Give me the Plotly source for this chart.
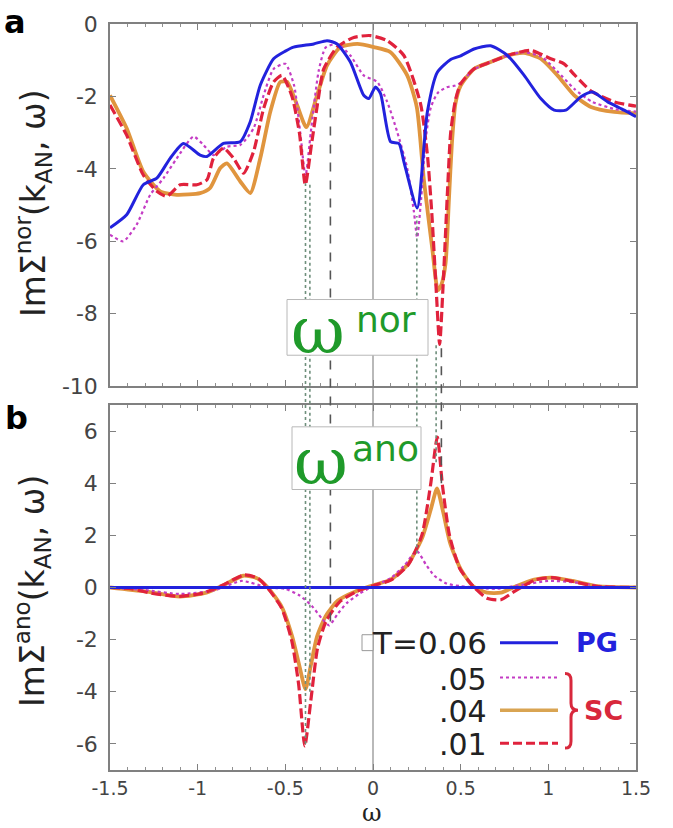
import plotly.graph_objects as go

# ---------------- data ----------------
# Panel a: Im Sigma^nor(k_AN, omega)
omega_nor_pg = [-1.5, -1.405, -1.31, -1.233, -1.157, -1.081, -0.986, -0.947, -0.853, -0.757, -0.70, -0.643,
                -0.567, -0.50, -0.453, -0.338, -0.262, -0.205, -0.129, -0.053, -0.024, 0.014, 0.043, 0.10,
                0.148, 0.176, 0.252, 0.31, 0.367, 0.443, 0.50, 0.576, 0.671, 0.767, 0.862, 0.957, 1.033,
                1.10, 1.186, 1.252, 1.338, 1.433, 1.50]
nor_pg = [-5.63, -5.27, -4.44, -4.26, -3.71, -3.30, -3.62, -3.66, -3.30, -3.25, -2.70, -1.69,
          -0.96, -0.75, -0.64, -0.55, -0.46, -0.55, -1.05, -1.97, -2.06, -1.74, -1.92, -3.25,
          -3.30, -3.80, -5.08, -2.43, -1.33, -0.98, -0.88, -0.69, -0.60, -0.87, -1.42, -2.06, -2.38,
          -2.38, -2.01, -1.88, -2.15, -2.38, -2.56]

omega_nor_05 = [-1.5, -1.424, -1.348, -1.271, -1.195, -1.119, -1.024, -0.967, -0.91, -0.833, -0.757, -0.681,
                -0.624, -0.567, -0.50, -0.45, -0.415, -0.385, -0.355, -0.31, -0.27, -0.205, -0.129, -0.053,
                0.024, 0.081, 0.138, 0.195, 0.233, 0.252, 0.275, 0.30, 0.33, 0.37, 0.42, 0.47, 0.50, 0.576,
                0.671, 0.767, 0.86, 0.96, 1.05, 1.15, 1.25, 1.38, 1.50]
nor_05 = [-5.82, -6.0, -5.54, -4.72, -4.26, -3.71, -3.11, -3.34, -3.62, -3.39, -3.34, -2.88,
          -1.97, -1.24, -1.10, -1.70, -3.0, -4.2, -3.0, -1.3, -0.65, -0.55, -0.87, -1.42,
          -1.60, -2.15, -2.98, -3.98, -5.17, -5.9, -4.8, -3.2, -2.3, -1.9, -1.75, -1.7, -1.62, -1.25,
          -1.05, -0.87, -0.78, -0.90, -1.30, -1.80, -2.15, -2.35, -2.42]

omega_nor_04 = [-1.5, -1.405, -1.31, -1.214, -1.119, -0.986, -0.929, -0.871, -0.833, -0.757, -0.70, -0.643,
                -0.586, -0.529, -0.49, -0.433, -0.38, -0.319, -0.262, -0.186, -0.09, 0.005, 0.10, 0.195,
                0.25, 0.29, 0.338, 0.37, 0.39, 0.414, 0.433, 0.45, 0.47, 0.50, 0.576, 0.671, 0.767, 0.862,
                0.957, 1.052, 1.148, 1.243, 1.376, 1.50]
nor_04 = [-1.97, -2.88, -4.08, -4.62, -4.72, -4.67, -4.53, -3.98, -3.85, -4.35, -4.67, -3.71,
          -2.43, -1.60, -1.60, -2.24, -2.85, -1.97, -1.14, -0.64, -0.55, -0.64, -0.78, -1.42,
          -2.3, -4.3, -6.2, -7.35, -7.2, -6.6, -4.85, -3.3, -2.2, -1.7, -1.24, -1.05, -0.87, -0.80,
          -0.96, -1.42, -1.97, -2.29, -2.43, -2.47]

omega_nor_01 = [-1.5, -1.405, -1.31, -1.233, -1.176, -1.10, -1.005, -0.947, -0.91, -0.853, -0.795, -0.738,
                -0.681, -0.624, -0.567, -0.519, -0.462, -0.42, -0.386, -0.35, -0.31, -0.281, -0.205, -0.110,
                -0.014, 0.081, 0.176, 0.271, 0.31, 0.335, 0.36, 0.38, 0.40, 0.425, 0.443, 0.47, 0.50,
                0.576, 0.671, 0.767, 0.90, 1.014, 1.09, 1.148, 1.243, 1.376, 1.50]
nor_01 = [-2.24, -3.07, -4.17, -4.62, -4.76, -4.44, -4.44, -4.30, -3.71, -3.43, -3.71, -4.12,
          -3.52, -2.34, -1.60, -1.42, -2.0, -3.0, -4.44, -3.3, -2.0, -1.24, -0.64, -0.37,
          -0.32, -0.46, -0.87, -2.2, -3.6, -5.2, -7.3, -8.85, -7.2, -4.6, -3.0, -2.1, -1.65,
          -1.24, -1.05, -0.87, -0.73, -0.96, -1.10, -1.40, -1.85, -2.15, -2.27]

# Panel b: Im Sigma^ano(k_AN, omega)
omega_ano_pg = [-1.5, 1.5]
ano_pg = [0.0, 0.0]

omega_ano_05 = [-1.5, -1.3, -1.1, -0.9, -0.75, -0.6, -0.5, -0.42, -0.35, -0.29, -0.25, -0.2, -0.15, -0.08,
                0.0, 0.1, 0.18, 0.25, 0.3, 0.35, 0.42, 0.5, 0.7, 0.85, 1.0, 1.15, 1.3, 1.5]
ano_05 = [0.0, -0.1, -0.25, -0.1, 0.25, 0.0, -0.05, -0.3, -0.7, -1.2, -1.45, -1.0, -0.6, -0.25,
          0.05, 0.35, 0.85, 1.4, 0.9, 0.45, 0.15, 0.05, -0.05, 0.1, 0.25, 0.2, 0.05, 0.0]

omega_ano_04 = [-1.5, -1.3, -1.1, -0.95, -0.85, -0.74, -0.66, -0.6, -0.52, -0.46, -0.42, -0.385, -0.355,
                -0.32, -0.27, -0.2, -0.1, 0.0, 0.1, 0.2, 0.28, 0.33, 0.365, 0.4, 0.44, 0.5, 0.57, 0.65,
                0.73, 0.8, 0.92, 1.02, 1.14, 1.28, 1.5]
ano_04 = [0.0, -0.15, -0.35, -0.2, 0.1, 0.45, 0.35, 0.0, -0.75, -1.9, -3.0, -3.9, -3.0,
          -1.9, -1.1, -0.5, -0.15, 0.08, 0.3, 0.9, 1.9, 3.0, 3.8, 2.9, 1.7, 0.7, 0.05, -0.2,
          -0.2, 0.0, 0.3, 0.38, 0.25, 0.05, 0.0]

omega_ano_01 = [-1.5, -1.38, -1.264, -1.107, -0.971, -0.854, -0.736, -0.658, -0.60, -0.521, -0.463, -0.424,
                -0.389, -0.355, -0.316, -0.268, -0.189, -0.092, 0.006, 0.104, 0.201, 0.279, 0.328, 0.367,
                0.396, 0.436, 0.494, 0.572, 0.65, 0.729, 0.807, 0.924, 1.021, 1.139, 1.275, 1.5]
ano_01 = [0.0, -0.05, -0.22, -0.34, -0.22, 0.10, 0.48, 0.36, -0.03, -0.79, -2.06, -3.72,
          -6.08, -4.36, -2.32, -1.30, -0.54, -0.15, 0.08, 0.29, 0.87, 2.01, 3.92, 5.77,
          3.92, 2.01, 0.74, 0.04, -0.41, -0.47, -0.15, 0.29, 0.38, 0.23, 0.04, 0.0]

# Guide lines linking features of the two panels: omega, value in panel a, value in panel b
mark_omega = [-0.385, -0.36, -0.243, 0.25, 0.36, 0.39]
mark_nor = [-4.4, -4.4, -1.2, -5.3, -8.8, -8.8]
mark_ano = [-6.0, -4.0, -1.3, 1.3, 4.8, 4.0]
mark_dash = ["dot", "dot", "dash", "dot", "dot", "dash"]

x_ticks = [-1.5, -1, -0.5, 0, 0.5, 1, 1.5]
x_tick_text = ["-1.5", "-1", "-0.5", "0", "0.5", "1", "1.5"]
nor_ticks = [0, -2, -4, -6, -8, -10]
nor_tick_text = ["0", "-2", "-4", "-6", "-8", "-10"]
ano_ticks = [6, 4, 2, 0, -2, -4, -6]
ano_tick_text = ["6", "4", "2", "0", "-2", "-4", "-6"]

series_labels = ["T=0.06", ".05", ".04", ".01"]

# ---------------- geometry ----------------
W, H = 673, 828
ML, MR, MT, MB = 110, 37, 20, 58
PW, PH = W - ML - MR, H - MT - MB
NOR_RANGE = [-10, 0]
ANO_RANGE = [-7, 7]


def fx(px):
    return (px - ML) / PW


def fy(py):
    return (H - MB - py) / PH


NOR_DOM = [fy(384), 1.0]
ANO_DOM = [0.0, fy(403)]


def paper_nor(v):
    return NOR_DOM[0] + (v - NOR_RANGE[0]) / (NOR_RANGE[1] - NOR_RANGE[0]) * (NOR_DOM[1] - NOR_DOM[0])


def paper_ano(v):
    return ANO_DOM[0] + (v - ANO_RANGE[0]) / (ANO_RANGE[1] - ANO_RANGE[0]) * (ANO_DOM[1] - ANO_DOM[0])


BLUE = "#2222dd"
MAGENTA = "#c43cc4"
ORANGE = "#e0953e"
RED = "#e0223c"
SANS = "DejaVu Sans"
SERIF = "DejaVu Serif"

styles = {
    "pg": dict(color=BLUE, width=3),
    "05": dict(color=MAGENTA, width=2.2, dash="3px,3px"),
    "04": dict(color=ORANGE, width=3.8),
    "01": dict(color=RED, width=3.2, dash="10px,4px"),
}

fig = go.Figure()

panel_a = [("04", omega_nor_04, nor_04), ("05", omega_nor_05, nor_05),
           ("01", omega_nor_01, nor_01), ("pg", omega_nor_pg, nor_pg)]
panel_b = [("04", omega_ano_04, ano_04), ("05", omega_ano_05, ano_05),
           ("01", omega_ano_01, ano_01), ("pg", omega_ano_pg, ano_pg)]

for key, xs, ys in panel_a:
    fig.add_trace(go.Scatter(x=xs, y=ys, mode="lines", line=dict(shape="spline", smoothing=0.6, **styles[key]),
                             xaxis="x", yaxis="y", showlegend=False, hoverinfo="skip"))
for key, xs, ys in panel_b:
    fig.add_trace(go.Scatter(x=xs, y=ys, mode="lines", line=dict(shape="spline", smoothing=0.6, **styles[key]),
                             xaxis="x2", yaxis="y2", showlegend=False, hoverinfo="skip"))

shapes = []
# omega = 0 reference line through both panels
shapes.append(dict(type="line", xref="x", yref="paper", x0=0, x1=0, y0=0, y1=1,
                   line=dict(color="#8a8a8a", width=1.2), layer="below"))
# guide lines
for om, vn, va, ds in zip(mark_omega, mark_nor, mark_ano, mark_dash):
    col = "#6f8f7c" if ds == "dot" else "#555555"
    shapes.append(dict(type="line", xref="x", yref="paper", x0=om, x1=om,
                       y0=paper_ano(va), y1=paper_nor(vn),
                       line=dict(color=col, width=1.6, dash=ds)))

# label boxes
for x0, x1, y0, y1 in [(287, 428, 297, 353), (292, 421, 425, 488)]:
    shapes.append(dict(type="rect", xref="paper", yref="paper", x0=fx(x0), x1=fx(x1), y0=fy(y1), y1=fy(y0),
                       fillcolor="white", line=dict(color="#b8b8b8", width=1)))

# legend samples
legend_rows = [(642, dict(color=BLUE, width=3)),
               (677, dict(color=MAGENTA, width=2.2, dash="3px,3px")),
               (710, dict(color="#d9a452", width=3.5)),
               (743, dict(color=RED, width=3, dash="9px,4px"))]
for py, ln in legend_rows:
    shapes.append(dict(type="line", xref="paper", yref="paper", x0=fx(500), x1=fx(558), y0=fy(py), y1=fy(py),
                       line=ln))
shapes.append(dict(type="rect", xref="paper", yref="paper", x0=fx(362), x1=fx(373), y0=fy(650), y1=fy(634),
                   fillcolor="white", line=dict(color="#999999", width=1)))

# brace grouping the SC curves
brace_pts = [("M", 565, 673), ("Q", 571, 673, 571, 680), ("L", 571, 703), ("Q", 571, 710, 578, 710),
             ("Q", 571, 710, 571, 717), ("L", 571, 741), ("Q", 571, 748, 565, 748)]
path = ""
for seg in brace_pts:
    cmd, coords = seg[0], seg[1:]
    parts = []
    for i in range(0, len(coords), 2):
        parts.append(f"{fx(coords[i]):.5f},{fy(coords[i + 1]):.5f}")
    path += cmd + " " + " ".join(parts) + " "
shapes.append(dict(type="path", xref="paper", yref="paper", path=path.strip(),
                   line=dict(color="#d8283c", width=3)))

annotations = []


def note(text, px, py, size, color="#222222", family=SANS, xanchor="center", yanchor="middle", angle=0):
    annotations.append(dict(text=text, x=fx(px), y=fy(py), xref="paper", yref="paper", showarrow=False,
                            xanchor=xanchor, yanchor=yanchor, textangle=angle, borderpad=0,
                            font=dict(size=size, color=color, family=family)))


# panel letters
note("<b>a</b>", 15, 18, 32, color="black")
note("<b>b</b>", 16, 416, 32, color="black")
# axis titles
note("ImΣ<sup>nor</sup>(k<sub>AN</sub>, ω)", 33, 200, 33, angle=-90)
note("ImΣ<sup>ano</sup>(k<sub>AN</sub>, ω)", 33, 590, 33, angle=-90)
note("ω", 372, 813, 24, family=SERIF)
# boxed labels
GREEN = "#1f9a2a"
note("ω", 318, 328, 66, color=GREEN, family=SERIF)
note("nor", 386, 317, 36, color=GREEN)
note("ω", 321, 460, 66, color=GREEN, family=SERIF)
note("ano", 385, 447, 36, color=GREEN)
# legend text
note(series_labels[0], 488, 642, 31, xanchor="right")
note(series_labels[1], 488, 679, 30, xanchor="right")
note(series_labels[2], 488, 711, 30, xanchor="right")
note(series_labels[3], 488, 744, 30, xanchor="right")
note("<b>PG</b>", 597, 642, 27, color=BLUE)
note("<b>SC</b>", 603, 710, 27, color="#d8283c")

axis_common = dict(showline=True, mirror="ticks", linecolor="#808080", linewidth=1.5,
                   ticks="inside", ticklen=6, tickcolor="#808080", tickwidth=1.2,
                   showgrid=False, zeroline=False)

fig.update_layout(
    width=W, height=H,
    margin=dict(l=ML, r=MR, t=MT, b=MB),
    paper_bgcolor="white", plot_bgcolor="white",
    showlegend=False,
    xaxis=dict(domain=[0, 1], anchor="y", range=[-1.5, 1.5], tickvals=x_ticks, showticklabels=False,
               minor=dict(ticks="inside", dtick=0.1, ticklen=3, tickcolor="#909090"), **axis_common),
    yaxis=dict(domain=NOR_DOM, anchor="x", range=NOR_RANGE, tickvals=nor_ticks, ticktext=nor_tick_text,
               tickfont=dict(size=22, color="#444444", family=SANS), ticklabelstandoff=6, **axis_common),
    xaxis2=dict(domain=[0, 1], anchor="y2", range=[-1.5, 1.5], tickvals=x_ticks, ticktext=x_tick_text,
                tickfont=dict(size=19, color="#444444", family=SANS), ticklabelstandoff=0,
                minor=dict(ticks="inside", dtick=0.1, ticklen=3, tickcolor="#909090"), **axis_common),
    yaxis2=dict(domain=ANO_DOM, anchor="x2", range=ANO_RANGE, tickvals=ano_ticks, ticktext=ano_tick_text,
                tickfont=dict(size=22, color="#444444", family=SANS), ticklabelstandoff=6, **axis_common),
    shapes=shapes,
    annotations=annotations,
)

fig.write_html("out.html")
